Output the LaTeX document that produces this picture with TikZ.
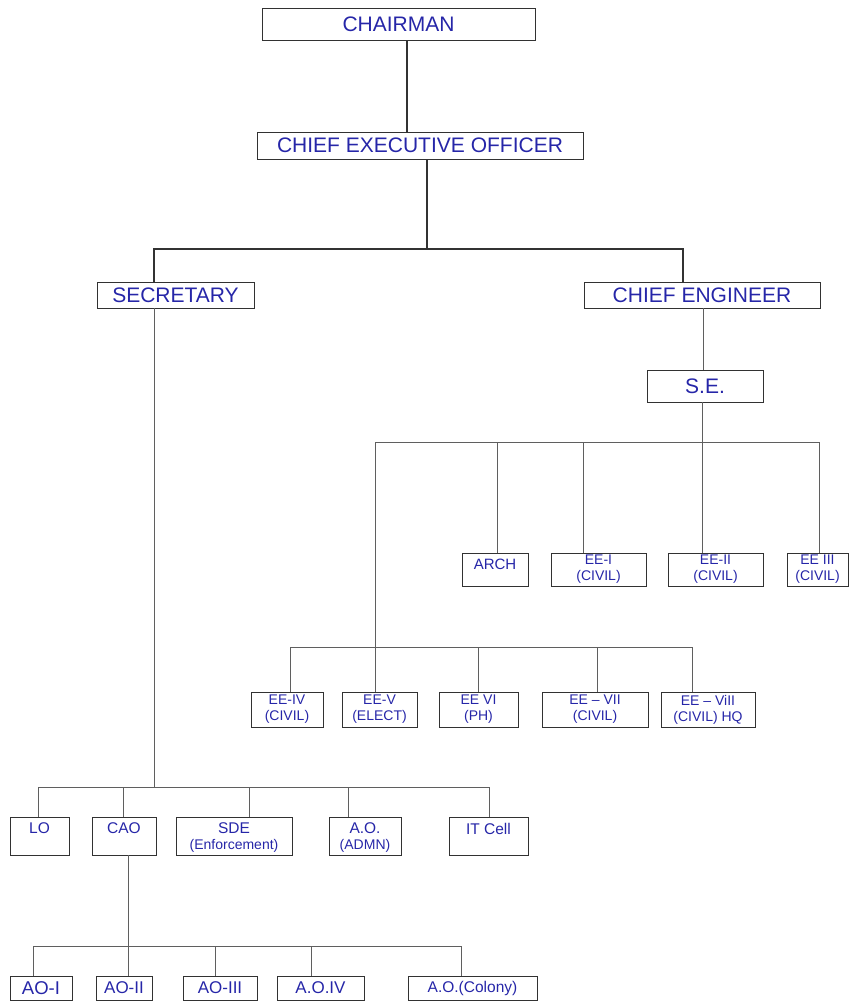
\documentclass[tikz,border=0pt]{standalone}
\usepackage{fontspec}
\setmainfont{Liberation Sans}
\definecolor{tx}{RGB}{38,38,168}
\definecolor{lnc}{RGB}{95,95,95}
\definecolor{dkc}{RGB}{50,50,50}
\begin{document}
\begin{tikzpicture}[x=1pt,y=-1pt,
  box/.style={draw=dkc, line width=0.8pt, inner sep=0pt},
  ln/.style={draw=lnc, line width=1pt},
  dk/.style={draw=dkc, line width=1.1pt},
  tl/.style={text=tx, inner sep=0pt, align=center},
  fA/.style={font=\fontsize{21}{24}\selectfont},
  fB/.style={font=\fontsize{14}{16}\selectfont},
  fC/.style={font=\fontsize{15.5}{16.5}\selectfont},
  fD/.style={font=\fontsize{17}{19}\selectfont},
  fE/.style={font=\fontsize{18.5}{20}\selectfont},
  fF/.style={font=\fontsize{15.5}{17}\selectfont},
  fG/.style={font=\fontsize{15}{16}\selectfont}]
\useasboundingbox (0,0) rectangle (849,1003);

% ---------- boxes ----------
\node[box, minimum width=273pt, minimum height=32pt] (chair) at (398.5,24) {};
\node[box, minimum width=326pt, minimum height=27pt] (ceo) at (420,145.5) {};
\node[box, minimum width=157pt, minimum height=26pt] (sec) at (175.5,295) {};
\node[box, minimum width=236pt, minimum height=26pt] (ce) at (702,295) {};
\node[box, minimum width=116pt, minimum height=32pt] (se) at (705,386) {};

\node[box, minimum width=66pt, minimum height=33pt] (arch) at (495,569.5) {};
\node[box, minimum width=95pt, minimum height=33pt] (ee1) at (598.5,569.5) {};
\node[box, minimum width=95pt, minimum height=33pt] (ee2) at (715.5,569.5) {};
\node[box, minimum width=61pt, minimum height=33pt] (ee3) at (817.5,569.5) {};

\node[box, minimum width=72pt, minimum height=35pt] (ee4) at (287,709.5) {};
\node[box, minimum width=75pt, minimum height=35pt] (ee5) at (379.5,709.5) {};
\node[box, minimum width=79pt, minimum height=35pt] (ee6) at (478.5,709.5) {};
\node[box, minimum width=106pt, minimum height=35pt] (ee7) at (595,709.5) {};
\node[box, minimum width=94pt, minimum height=35pt] (ee8) at (708,709.5) {};

\node[box, minimum width=59pt, minimum height=38pt] (lo) at (39.5,836) {};
\node[box, minimum width=64pt, minimum height=38pt] (cao) at (124,836) {};
\node[box, minimum width=116pt, minimum height=38pt] (sde) at (234,836) {};
\node[box, minimum width=72pt, minimum height=38pt] (ao) at (365,836) {};
\node[box, minimum width=79pt, minimum height=38pt] (it) at (488.5,836) {};

\node[box, minimum width=62pt, minimum height=24pt] (aoi) at (41,988) {};
\node[box, minimum width=56pt, minimum height=24pt] (aoii) at (124,988) {};
\node[box, minimum width=74pt, minimum height=24pt] (aoiii) at (220,988) {};
\node[box, minimum width=87pt, minimum height=24pt] (aoiv) at (320.5,988) {};
\node[box, minimum width=129pt, minimum height=24pt] (aocol) at (472.5,988) {};

% ---------- texts ----------
\node[tl, fA] (tchair) at (chair.center) {CHAIRMAN};
\node[tl, fA] (tceo) at (ceo.center) {CHIEF EXECUTIVE OFFICER};
\node[tl, fA] (tsec) at (sec.center) {SECRETARY};
\node[tl, fA] (tce) at (ce.center) {CHIEF ENGINEER};
\node[tl, fA] (tse) at (se.center) {S.E.};

\node[tl, fG, anchor=north] (tarch) at ([yshift=-6pt]arch.north) {ARCH};
\node[tl, fB] (tee1) at (ee1.center) {EE-I\\(CIVIL)};
\node[tl, fB] (tee2) at (ee2.center) {EE-II\\(CIVIL)};
\node[tl, fB] (tee3) at (ee3.center) {EE III\\(CIVIL)};

\node[tl, fB] (tee4) at (ee4.center) {EE-IV\\(CIVIL)};
\node[tl, fB] (tee5) at (ee5.center) {EE-V\\(ELECT)};
\node[tl, fB] (tee6) at (ee6.center) {EE VI\\(PH)};
\node[tl, fB] (tee7) at (ee7.center) {EE – VII\\(CIVIL)};
\node[tl, fB] (tee8) at (ee8.center) {EE – ViII\\(CIVIL) HQ};

\node[tl, fC, anchor=north] (tlo) at ([yshift=-6pt]lo.north) {LO};
\node[tl, fC, anchor=north] (tcao) at ([yshift=-6pt]cao.north) {CAO};
\node[tl, fC, anchor=north] (tsde) at ([yshift=-6pt]sde.north) {SDE\\[-1pt]{\fontsize{14}{15}\selectfont(Enforcement)}};
\node[tl, fC, anchor=north] (tao) at ([yshift=-6pt]ao.north) {A.O.\\[-1pt]{\fontsize{14}{15}\selectfont(ADMN)}};
\node[tl, fC, anchor=north] (tit) at ([yshift=-6pt]it.north) {IT Cell};

\node[tl, fE] (taoi) at (aoi.center) {AO-I};
\node[tl, fD] (taoii) at (aoii.center) {AO-II};
\node[tl, fD] (taoiii) at (aoiii.center) {AO-III};
\node[tl, fD] (taoiv) at (aoiv.center) {A.O.IV};
\node[tl, fF] (taocol) at (aocol.center) {A.O.(Colony)};

% ---------- junction coordinates ----------
\coordinate (j0) at (407,0);
\coordinate (b1m) at (427,249);
\coordinate (b1l) at (154,249);
\coordinate (b1r) at (683,249);
\coordinate (cej) at (703,0);
\coordinate (b2m) at (702,442);
\coordinate (b2l) at (375,442);
\coordinate (b2r) at (819,442);
\coordinate (b2a) at (497,442);
\coordinate (b2b) at (583,442);
\coordinate (b3m) at (375,647);
\coordinate (b3l) at (290,647);
\coordinate (b3r) at (692,647);
\coordinate (b3a) at (478,647);
\coordinate (b3b) at (597,647);
\coordinate (b4m) at (154,787);
\coordinate (b4l) at (38,787);
\coordinate (b4r) at (489,787);
\coordinate (b4a) at (123,787);
\coordinate (b4b) at (249,787);
\coordinate (b4c) at (348,787);
\coordinate (caoj) at (128,0);
\coordinate (b5m) at (128,946);
\coordinate (b5l) at (33,946);
\coordinate (b5r) at (461,946);
\coordinate (b5a) at (215,946);
\coordinate (b5b) at (311,946);

% ---------- connectors ----------
\draw[dk] (chair.south -| j0) -- (ceo.north -| j0);
\draw[dk] (ceo.south -| b1m) -- (b1m);
\draw[dk] (sec.north -| b1l) -- (b1l) -- (b1r) -- (ce.north -| b1r);

\draw[ln] (ce.south -| cej) -- (se.north -| cej);
\draw[ln] (se.south -| b2m) -- (b2m);
\draw[ln] (b2l) -- (b2r);
\draw[ln] (arch.north -| b2a) -- (b2a);
\draw[ln] (ee1.north -| b2b) -- (b2b);
\draw[ln] (ee2.north -| b2m) -- (b2m);
\draw[ln] (ee3.north -| b2r) -- (b2r);
\draw[ln] (b2l) -- (b3m);

\draw[ln] (b3l) -- (b3r);
\draw[ln] (ee4.north -| b3l) -- (b3l);
\draw[ln] (ee5.north -| b3m) -- (b3m);
\draw[ln] (ee6.north -| b3a) -- (b3a);
\draw[ln] (ee7.north -| b3b) -- (b3b);
\draw[ln] (ee8.north -| b3r) -- (b3r);

\draw[ln] (sec.south -| b4m) -- (b4m);
\draw[ln] (b4l) -- (b4r);
\draw[ln] (lo.north -| b4l) -- (b4l);
\draw[ln] (cao.north -| b4a) -- (b4a);
\draw[ln] (sde.north -| b4b) -- (b4b);
\draw[ln] (ao.north -| b4c) -- (b4c);
\draw[ln] (it.north -| b4r) -- (b4r);

\draw[ln] (cao.south -| caoj) -- (b5m);
\draw[ln] (b5l) -- (b5r);
\draw[ln] (aoi.north -| b5l) -- (b5l);
\draw[ln] (aoii.north -| b5m) -- (b5m);
\draw[ln] (aoiii.north -| b5a) -- (b5a);
\draw[ln] (aoiv.north -| b5b) -- (b5b);
\draw[ln] (aocol.north -| b5r) -- (b5r);
\end{tikzpicture}
\end{document}
